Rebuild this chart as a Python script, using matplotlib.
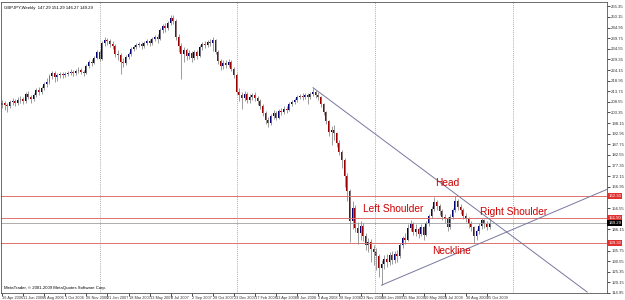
import numpy as np
import matplotlib
matplotlib.use("Agg")
import matplotlib.pyplot as plt
import matplotlib.transforms as mtransforms

# GBPJPY weekly bars, first bar is the week of 16 Apr 2006
first_open = 207.0
closes = [
    208.0, 207.0, 206.5, 208.5, 209.0, 208.0, 209.5, 210.0, 209.0, 212.5,
    211.0, 210.0, 212.0, 214.5, 213.5, 215.5, 217.5, 218.5, 221.0, 222.5,
    220.5, 221.5, 222.0, 221.5, 222.0, 222.5, 223.0, 222.5, 223.5, 224.0,
    223.0, 222.5, 226.0, 228.0, 227.5, 230.0, 233.0, 229.5, 237.5, 239.0,
    238.5, 237.0, 236.0, 232.0, 231.5, 228.0, 227.5, 230.5, 232.0, 234.5,
    235.5, 236.5, 237.0, 236.0, 237.5, 238.5, 237.5, 239.5, 240.5, 239.5,
    243.5, 245.5, 244.5, 247.0, 249.5, 248.0, 240.5, 236.0, 232.0, 234.0,
    231.0, 232.5, 230.0, 233.0, 231.0, 235.5, 237.0, 236.5, 238.0, 237.5,
    239.0, 233.0, 228.5, 226.0, 227.5, 226.5, 228.0, 224.5, 221.5, 213.5,
    212.0, 210.5, 212.5, 209.5, 211.0, 212.0, 210.5, 209.0, 206.5, 203.0,
    199.5, 198.0, 201.5, 203.0, 200.5, 204.0, 203.5, 205.0, 204.5, 207.5,
    208.5, 209.5, 211.0, 211.5, 211.0, 212.0, 211.0, 212.5, 213.5, 212.0,
    211.0, 207.5, 203.5, 199.0, 194.0, 195.0, 193.5, 188.5, 184.0, 180.0,
    172.0, 165.0, 150.0, 156.5, 147.0, 144.5, 148.0, 143.0, 138.5, 140.0,
    136.5, 135.0, 133.0, 127.0, 129.0, 131.5, 130.0, 133.5, 131.0, 134.0,
    133.0, 138.5, 142.0, 141.0, 147.0, 148.5, 145.0, 146.5, 144.0, 147.5,
    143.5, 149.0, 152.5, 156.0, 159.5, 157.5, 155.0, 152.0, 151.5, 147.5,
    152.0, 155.5, 160.0, 157.0, 155.5, 152.5, 151.0, 148.5, 147.5, 143.0,
    145.5, 148.0, 150.5, 148.5, 147.29, 149.29,
]
highs = [
    209.5, 209.0, 208.0, 209.5, 210.5, 210.0, 211.0, 211.5, 211.0, 213.5,
    214.0, 212.0, 213.0, 215.5, 216.0, 216.5, 218.5, 220.0, 222.0, 223.5,
    223.5, 222.5, 223.0, 223.0, 223.0, 223.5, 224.5, 224.0, 224.5, 225.5,
    225.0, 224.0, 227.0, 229.0, 229.5, 231.0, 234.0, 234.0, 238.5, 240.5,
    240.0, 239.5, 238.5, 237.0, 234.0, 232.5, 230.0, 231.5, 233.0, 235.5,
    236.5, 237.5, 238.0, 238.0, 238.5, 239.5, 239.5, 240.5, 241.5, 242.0,
    244.5, 246.5, 247.0, 248.0, 251.1, 251.0, 249.0, 242.0, 237.5, 235.5,
    235.0, 234.0, 233.5, 234.0, 234.0, 236.5, 238.0, 238.5, 239.0, 239.5,
    240.5, 239.5, 234.0, 229.5, 229.0, 229.0, 229.5, 229.0, 225.5, 222.5,
    215.5, 213.5, 214.0, 213.5, 212.5, 213.0, 213.5, 211.5, 210.0, 207.5,
    204.0, 201.0, 202.5, 204.5, 204.0, 205.0, 205.5, 206.5, 206.5, 208.5,
    209.5, 210.5, 212.0, 212.5, 213.0, 213.0, 213.0, 213.5, 215.5, 214.5,
    213.5, 211.5, 208.0, 204.0, 199.5, 196.5, 197.0, 194.0, 190.0, 185.0,
    181.0, 173.5, 166.0, 160.0, 158.0, 149.5, 150.0, 149.0, 144.5, 142.0,
    141.5, 138.5, 137.0, 134.0, 131.0, 133.5, 134.0, 135.0, 135.5, 135.5,
    136.0, 139.5, 143.0, 144.5, 148.5, 150.5, 149.5, 148.5, 147.5, 148.5,
    148.0, 150.0, 153.5, 157.5, 161.8, 160.5, 158.5, 156.0, 153.5, 152.0,
    153.5, 156.5, 162.3, 161.0, 158.5, 156.5, 154.0, 152.0, 150.0, 148.0,
    146.5, 149.0, 151.5, 151.3, 150.0, 151.29,
]
lows = [
    205.5, 204.5, 203.8, 205.5, 207.0, 206.5, 207.0, 208.0, 207.5, 208.0,
    210.0, 208.0, 209.0, 211.0, 212.0, 212.5, 214.5, 216.0, 217.5, 219.5,
    218.5, 219.0, 220.0, 220.0, 220.5, 221.0, 221.5, 221.0, 221.5, 222.5,
    222.0, 221.0, 222.0, 225.0, 226.0, 227.0, 229.5, 228.5, 229.0, 236.0,
    236.5, 235.5, 234.5, 230.5, 229.0, 222.0, 225.5, 226.5, 229.5, 231.0,
    233.5, 234.5, 235.5, 234.5, 235.0, 236.5, 236.0, 236.5, 238.5, 237.5,
    239.0, 242.5, 243.0, 243.5, 246.0, 246.5, 239.0, 233.0, 219.5, 228.0,
    229.0, 229.5, 228.0, 229.0, 229.5, 230.5, 234.0, 235.0, 235.5, 236.0,
    233.5, 232.0, 227.0, 224.0, 224.5, 225.0, 225.5, 223.5, 220.0, 212.5,
    209.0, 205.0, 209.0, 208.0, 208.0, 209.5, 209.0, 207.0, 205.0, 201.5,
    197.5, 196.0, 197.0, 200.0, 199.5, 200.0, 202.0, 202.5, 203.0, 204.0,
    206.5, 207.5, 208.5, 210.0, 209.5, 210.0, 207.5, 210.0, 211.5, 210.5,
    209.5, 206.0, 202.0, 197.5, 192.0, 187.5, 190.0, 186.5, 182.5, 176.0,
    167.0, 160.0, 140.0, 146.5, 145.0, 139.0, 141.0, 140.5, 136.0, 135.0,
    130.0, 128.5, 126.0, 123.0, 118.8, 126.5, 127.5, 128.5, 129.0, 129.5,
    130.0, 132.0, 137.0, 139.0, 140.5, 145.5, 143.5, 143.0, 142.0, 143.0,
    141.0, 143.0, 148.0, 151.5, 155.0, 155.5, 153.0, 150.5, 149.0, 145.5,
    146.5, 151.0, 154.5, 155.5, 153.5, 151.0, 149.5, 147.0, 145.5, 139.3,
    141.0, 144.0, 146.5, 147.0, 146.0, 146.27,
]

date_labels = ["16 Apr 2006", "11 Jun 2006", "6 Aug 2006", "1 Oct 2006", "26 Nov 2006",
               "21 Jan 2007", "18 Mar 2007", "13 May 2007", "8 Jul 2007", "2 Sep 2007",
               "28 Oct 2007", "23 Dec 2007", "17 Feb 2008", "13 Apr 2008", "8 Jun 2008",
               "3 Aug 2008", "28 Sep 2008", "23 Nov 2008", "18 Jan 2009", "15 Mar 2009",
               "10 May 2009", "5 Jul 2009", "30 Aug 2009", "25 Oct 2009"]
date_bars = list(range(0, 185, 8))
year_breaks = [37.1, 89.3, 141.6, 193.7]  # bar index of 1 Jan 2007..2010
price_ticks = [114.95 + 5.2 * k for k in range(28)]

red_levels = [162.30, 151.50, 139.30]
bid = 149.29
# trend lines (bar index, price)
down_line = [(118, 215.5), (222, 115.4)]
neck_line = [(144, 118.8), (229.5, 165.7)]
notes = [("Head", 168.8, 168.6), ("Left Shoulder", 148.3, 155.9),
         ("Right Shoulder", 194.2, 154.4), ("Neckline", 170.7, 135.4)]

small = dict(fontsize=3.1, family='Liberation Sans')

fig = plt.figure(figsize=(6.25, 3.0), dpi=100)
ax = fig.add_axes([1 / 625, 7 / 300, 606 / 625, 291 / 300])
ax.set_xlim(-0.38, 229.5)
ax.set_ylim(115.4, 257.45)

x = np.arange(len(closes))
c = np.array(closes)
o = np.array([first_open] + closes[:-1])
up = c >= o

for xb in year_breaks:
    ax.axvline(xb, color='#909090', lw=0.6, ls=(0, (1, 1.5)))
for lvl in red_levels:
    ax.axhline(lvl, color='#e07070', lw=0.7)
ax.axhline(bid, color='#a0a0a0', lw=0.6)

ax.vlines(x, lows, highs, color='#8c8c8c', lw=0.6)
ax.bar(x[up], c[up] - o[up], bottom=o[up], width=0.72, color='#000070', lw=0)
ax.bar(x[~up], o[~up] - c[~up], bottom=c[~up], width=0.72, color='#9a0000', lw=0)

for ln in (down_line, neck_line):
    ax.plot([ln[0][0], ln[1][0]], [ln[0][1], ln[1][1]], color='#7878a0', lw=0.7)

for txt, xi, yp in notes:
    ax.text(xi, yp, txt, color='#d00000', fontsize=7.3, family='Liberation Sans',
            ha='center', va='center')

# right price scale, labels that sit under a level box are left out
shown = [p for p in price_ticks if min(abs(p - l) for l in red_levels + [bid]) > 2.5]
ax.yaxis.tick_right()
ax.set_yticks(price_ticks)
ax.set_yticklabels([f"{p:.2f}" if p in shown else "" for p in price_ticks],
                   color='#333333', **small)
ax.tick_params(axis='y', length=2, width=0.5, pad=1)
ax.set_xticks(date_bars)
ax.set_xticklabels(date_labels, ha='left', color='#333333', fontsize=2.8, family='Liberation Sans')
ax.tick_params(axis='x', length=2, width=0.5, pad=0.5)
for s in ax.spines.values():
    s.set_linewidth(0.6)
    s.set_color('#555555')

trans = mtransforms.blended_transform_factory(ax.transAxes, ax.transData)
for lvl in red_levels:
    ax.text(1.002, lvl, f"{lvl:.2f}", transform=trans, color='white', va='center', ha='left',
            bbox=dict(boxstyle='square,pad=0.25', fc='#e03030', ec='none'), **small)
ax.text(1.002, bid, f"{bid:.2f}", transform=trans, color='white', va='center', ha='left',
        bbox=dict(boxstyle='square,pad=0.25', fc='black', ec='none'), **small)

ax.text(0.005, 0.985, "GBPJPY,Weekly  147.29 151.29 146.27 149.29", transform=ax.transAxes,
        va='top', ha='left', **small)
ax.text(0.005, 0.012, "MetaTrader, \u00a9 2001-2009 MetaQuotes Software Corp.", transform=ax.transAxes,
        va='bottom', ha='left', **small)

fig.savefig("out.png", dpi=100)
